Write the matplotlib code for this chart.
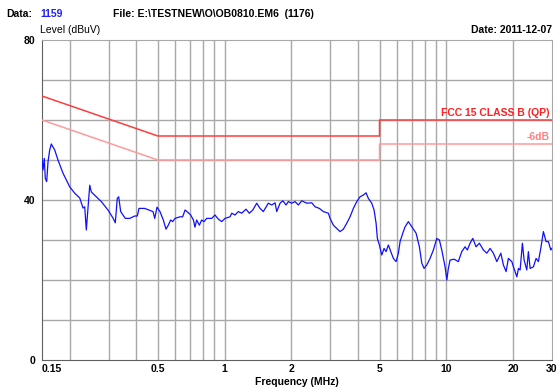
import matplotlib
matplotlib.use("Agg")
import matplotlib.pyplot as plt
import numpy as np

plt.rcParams['font.family'] = ['Liberation Sans', 'DejaVu Sans']

# Measured trace (frequency in MHz, level in dBuV)
freq = [0.150, 0.1516, 0.1536, 0.1552, 0.1575, 0.1597, 0.1625, 0.1652, 0.1712, 0.1771,
        0.1866, 0.2000, 0.2107, 0.2220, 0.2297, 0.2338, 0.2377, 0.2402, 0.2463, 0.2504,
        0.2637, 0.2778, 0.2977, 0.3136, 0.3212, 0.3279, 0.3328, 0.3397, 0.3564, 0.3731,
        0.3930, 0.4038, 0.4109, 0.4360, 0.4754, 0.4839, 0.4955,
        0.511, 0.529, 0.544, 0.557, 0.571, 0.583, 0.597, 0.629, 0.647, 0.663,
        0.686, 0.703, 0.723, 0.735, 0.748, 0.769, 0.788, 0.807, 0.830, 0.875,
        0.905, 0.937, 0.970, 1.004, 1.058, 1.077, 1.114, 1.153, 1.195, 1.249,
        1.293, 1.340, 1.396, 1.445, 1.495, 1.575, 1.632, 1.689, 1.719, 1.779,
        1.830, 1.893, 1.939, 2.008, 2.079, 2.151, 2.229, 2.348, 2.474, 2.559,
        2.676, 2.790, 2.939,
        2.991, 3.095, 3.207, 3.318, 3.434, 3.557, 3.681, 3.810, 3.947, 4.085,
        4.227, 4.347, 4.452, 4.612, 4.724, 4.824, 4.889, 4.992, 5.118, 5.241,
        5.351, 5.481, 5.619, 5.774, 5.938, 6.082, 6.190, 6.366, 6.520, 6.747,
        6.990, 7.310, 7.565, 7.757, 7.943, 8.168, 8.453, 8.748, 9.063, 9.312,
        9.546, 9.879, 10.06, 10.22, 10.41, 10.85, 11.34, 11.75, 12.16, 12.45,
        12.81, 13.17, 13.63, 14.11, 14.71, 15.24, 15.77, 16.32, 16.91, 17.63,
        18.11, 18.62, 19.07, 19.76, 20.09, 20.82, 21.17, 21.54, 22.06, 22.45,
        23.09, 23.47, 23.90, 24.73, 25.43, 26.04, 26.70, 27.43, 28.21, 28.90,
        29.63, 29.94]
level = [50.2, 47.5, 50.4, 45.4, 44.6, 49.6, 52.5, 54.0, 52.5, 50.0,
         46.7, 43.3, 41.7, 40.5, 38.0, 38.3, 32.5, 35.8, 43.7, 42.0,
         40.8, 39.6, 37.5, 35.5, 34.3, 40.4, 40.8, 37.1, 35.4, 35.4,
         36.0, 36.0, 37.9, 37.9, 37.1, 35.4, 38.2,
         37.1, 35.0, 32.7, 33.7, 35.0, 34.6, 35.4, 35.8, 35.8, 37.5,
         36.8, 36.25, 35.0, 33.2, 35.0, 33.7, 35.0, 34.6, 35.4, 35.4,
         36.25, 35.2, 34.6, 35.4, 35.8, 36.7, 36.25, 37.1, 36.7, 37.7,
         36.7, 37.5, 39.2, 37.9, 37.1, 39.2, 38.75, 39.3, 37.1, 39.2,
         39.8, 38.75, 39.6, 39.2, 39.6, 38.75, 39.8, 39.2, 39.3, 38.3,
         37.9, 37.1, 36.7,
         35.4, 33.7, 32.9, 32.1, 32.7, 34.2, 35.8, 37.9, 39.6, 40.8,
         41.25, 41.8, 40.4, 39.2, 37.5, 34.2, 30.4, 28.75, 26.25, 27.9,
         27.1, 28.75, 27.1, 25.4, 24.6, 26.7, 29.6, 31.7, 33.3, 34.6,
         33.3, 31.7, 28.3, 24.2, 22.9, 23.75, 25.4, 27.5, 30.4, 30.0,
         27.5, 23.3, 20.0, 22.9, 25.0, 25.2, 24.6, 27.1, 28.3, 27.5,
         29.2, 30.4, 28.3, 29.2, 27.5, 26.7, 27.9, 26.7, 24.6, 26.7,
         23.75, 22.1, 25.4, 24.6, 23.3, 20.8, 22.9, 22.5, 29.2, 25.0,
         22.5, 27.1, 22.9, 23.3, 25.4, 24.6, 27.9, 32.1, 29.6, 29.6,
         27.5, 27.9]

# FCC 15 Class B (QP) limit and -6 dB margin
limit_f = [0.15, 0.5, 0.5, 5.0, 5.0, 30.0]
limit_qp = [66, 56, 56, 56, 60, 60]
limit_m6 = [60, 50, 50, 50, 54, 54]

xticks = [0.15, 0.5, 1, 2, 5, 10, 20, 30]
xticklabels = ['0.15', '0.5', '1', '2', '5', '10', '20', '30']
xgrid = [0.2, 0.3, 0.4, 0.5, 0.6, 0.7, 0.8, 0.9, 1, 2, 3, 4, 5, 6, 7, 8, 9, 10, 20]
ygrid = [10, 20, 30, 40, 50, 60, 70]
yticks = [0, 40, 80]

fig = plt.figure(figsize=(5.6, 3.92), dpi=100)
ax = fig.add_axes([42/560, 32/392, 510/560, 320/392])
ax.set_xscale('log')
ax.set_xlim(0.15, 30)
ax.set_ylim(0, 80)

for g in xgrid:
    ax.axvline(g, color='#a8a8a8', lw=1.0, zorder=1)
for g in ygrid:
    ax.axhline(g, color='#a8a8a8', lw=1.0, zorder=1)

ax.plot(limit_f, limit_qp, color='#ff3c3c', lw=1.1, zorder=3)
ax.plot(limit_f, limit_m6, color='#ff9a9a', lw=1.1, zorder=3)
ax.plot(freq, level, color='#1010ff', lw=0.9, zorder=4)

ax.text(29.3, 61.8, 'FCC 15 CLASS B (QP)', color='#ff2020', fontsize=7.5,
        fontweight='bold', ha='right', va='center')
ax.text(29.3, 55.8, '-6dB', color='#ff8080', fontsize=7.5,
        fontweight='bold', ha='right', va='center')

ax.set_xticks(xticks)
ax.set_xticklabels(xticklabels, fontsize=7.5, fontweight='bold')
ax.get_xticklabels()[0].set_ha('left')
ax.xaxis.set_minor_locator(matplotlib.ticker.NullLocator())
ax.set_yticks(yticks)
ax.set_yticklabels([str(v) for v in yticks], fontsize=7.5, fontweight='bold')
ax.tick_params(length=0, pad=3)
ax.tick_params(axis='y', pad=5)
for s in ['left', 'bottom']:
    ax.spines[s].set_color('#606060')
for s in ['top', 'right']:
    ax.spines[s].set_color('#a8a8a8')
ax.set_xlabel('Frequency (MHz)', fontsize=7.5, fontweight='bold', labelpad=2)

fig.text(6/560, 1 - 14/392, 'Data:', fontsize=7.5, fontweight='bold', va='center')
fig.text(40/560, 1 - 14/392, '1159', fontsize=7.5, fontweight='bold', va='center', color='#2020ff')
fig.text(113/560, 1 - 14/392, 'File: E:\\TESTNEW\\O\\OB0810.EM6  (1176)', fontsize=7.5,
         fontweight='bold', va='center')
fig.text(40/560, 1 - 30/392, 'Level (dBuV)', fontsize=7.5, va='center')
fig.text(552/560, 1 - 30/392, 'Date: 2011-12-07', fontsize=7.5, fontweight='bold',
         va='center', ha='right')

fig.savefig('out.png', dpi=100)
